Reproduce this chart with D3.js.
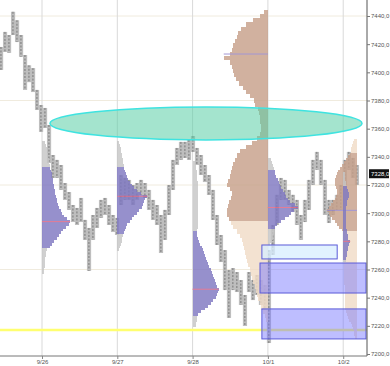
<!DOCTYPE html>
<html>
<head>
<meta charset="utf-8">
<script src="https://cdn.jsdelivr.net/npm/d3@7"></script>
<style>
  body { margin: 0; background: #fff; }
  svg text { font-family: "Liberation Sans", Arial, sans-serif; }
</style>
</head>
<body>
<svg id="chart" width="390" height="366"></svg>
<script>
// sessions (x unit = one session)
const days = ['9/26', '9/27', '9/28', '10/1', '10/2']
const priceTicks = [7200, 7220, 7240, 7260, 7280, 7300, 7320, 7340, 7360, 7380, 7400, 7420, 7440]
const gridPrices = [7260, 7320, 7380, 7440]
const lastPrice = 7328

// price bars, one every barStep sessions
const barStart = -0.545
const barStep = 0.0531
const barHi = [7418, 7428.7, 7426.5, 7443, 7437, 7426.5, 7412.3, 7405, 7403, 7387.5,
  7376.8, 7374.7, 7362.6, 7341.3, 7337.8, 7334.2, 7321.4, 7315, 7305.8, 7303.7,
  7310.8, 7295.2, 7289.5, 7298.7, 7303.7, 7309.4, 7310.8, 7305.8, 7298.7, 7296.6,
  7327, 7325, 7323.6, 7320, 7321.4, 7323.6, 7321.4, 7316.5, 7309.4, 7305.8,
  7298.7, 7302.3, 7320, 7337.8, 7346.3, 7350.6, 7350.6, 7352, 7354.8, 7346.3,
  7341.3, 7334.2, 7327.1, 7316.5, 7298.7, 7284.5, 7273.8, 7259.6, 7261, 7258.2,
  7252.5, 7241.9, 7258.2, 7252.5, 7256.1, 7252.5, 7249, 7273.8, 7291.6, 7313,
  7325, 7323.6, 7316.5, 7313, 7309.4, 7298.7, 7309.4, 7323.6, 7337.8, 7343.5,
  7337.8, 7323.6, 7309.4, 7309.4, 7313, 7320, 7337.8, 7343.5, 7339.2, 7334.2]
const barLo = [7401.7, 7414.5, 7413.8, 7426.5, 7421.5, 7411, 7387.5, 7393, 7386, 7373.3,
  7357.7, 7360.5, 7335.6, 7325, 7325, 7316.5, 7309.4, 7302.3, 7293.7, 7291.6,
  7293.7, 7281, 7259, 7281, 7289.5, 7296.6, 7298.7, 7291.6, 7286.6, 7284.5,
  7305.8, 7309.4, 7309.4, 7305.8, 7309.4, 7312.9, 7310.8, 7302.3, 7295.2, 7291.6,
  7271.7, 7281, 7298.7, 7316.5, 7334.2, 7337.8, 7339.2, 7337.8, 7343.5, 7334.2,
  7327.1, 7322.1, 7312.9, 7295.2, 7277.4, 7265.3, 7245.4, 7225.6, 7245.4, 7244,
  7234.8, 7219.9, 7244, 7238.3, 7241.9, 7234.8, 7231.2, 7207.8, 7270.3, 7291.6,
  7309.4, 7309.4, 7305.8, 7300.8, 7291.6, 7281, 7293.7, 7302.3, 7320, 7330.7,
  7320, 7298.7, 7293, 7298.7, 7302.3, 7302.3, 7320, 7330.7, 7325, 7320]

// volume profiles: volume per price level, from the lowest level up
const vol926 = [2, 2, 3, 3, 3, 3, 4, 4, 5, 8, 10, 12, 15, 17, 19, 21, 24, 27, 28, 25,
  22, 20, 19, 17, 16, 15, 15, 14, 13, 13, 12, 12, 11, 11, 10, 10, 9, 8, 8, 7,
  7, 6, 6, 5, 5, 4, 3]
const vol927 = [2, 3, 4, 5, 5, 6, 7, 8, 9, 10, 13, 15, 17, 20, 22, 25, 26, 27, 28, 30,
  24, 20, 17, 15, 13, 11, 10, 9, 8, 7, 7, 6, 6, 5, 5, 4, 4, 3, 2]
const vol928 = [3, 3, 4, 4, 5, 8, 12, 15, 18, 20, 23, 24, 25, 26, 24, 23, 22, 21, 20, 19,
  18, 16, 15, 14, 13, 12, 11, 10, 9, 7, 6, 5, 4, 4, 4, 5, 5, 5, 5, 5,
  5, 5, 5, 5, 5, 5, 5, 5, 5, 5, 5, 5, 4, 4, 4, 4, 3, 3, 2]
const volComposite = [2, 3, 5, 7, 8, 10, 11, 12, 13, 15, 16, 17, 18, 20, 21, 22, 23, 24, 25, 26,
  28, 31, 35, 37, 39, 41, 41, 40, 39, 37, 36, 38, 41, 40, 38, 37, 36, 35, 33, 31,
  28, 22, 16, 11, 8, 7, 7, 8, 8, 9, 10, 13, 14, 18, 22, 25, 29, 32,
  34, 35, 36, 38, 44, 38, 36, 35, 33, 31, 30, 27, 22, 15, 8, 4]
const vol101 = [2, 4, 5, 5, 6, 6, 7, 9, 13, 17, 21, 23, 26, 30, 27, 22, 20, 18, 17, 15,
  13, 12, 11, 10, 8, 7, 7, 6, 5, 4, 3]
const vol102Composite = [2, 3, 3, 4, 5, 6, 8, 9, 10, 11, 12, 12, 12, 12, 12, 12, 12, 12, 12, 13,
  13, 13, 13, 13, 13, 13, 13, 13, 13, 14, 14, 14, 14, 14, 14, 14, 14, 14, 15, 18,
  20, 22, 25, 27, 28, 30, 28, 26, 24, 22, 21, 20, 20, 21, 22, 22, 22, 21, 20, 19,
  17, 15, 13, 11, 9, 7, 6, 6, 5, 4, 3]
const vol102 = [3, 3, 4, 4, 5, 5, 6, 7, 5, 5, 4, 4, 3, 3, 3, 3, 3, 3, 3, 3,
  4, 4, 5, 6, 6, 5, 4, 3, 3, 2, 2, 2]

const profiles = [
  { t: 0, dir: 1, lo: 7258, step: 2, vol: vol926, vaLo: 7276, vaHi: 7332, poc: 7294, kind: 'day' },
  { t: 1, dir: 1, lo: 7274, step: 2, vol: vol927, vaLo: 7286, vaHi: 7332, poc: 7312, kind: 'day' },
  { t: 2, dir: 1, lo: 7220, step: 2, vol: vol928, vaLo: 7228, vaHi: 7286, poc: 7246, kind: 'day' },
  { t: 3, dir: -1, lo: 7224, step: 3, vol: volComposite, vaLo: 7294, vaHi: 7450, poc: 7413, kind: 'comp' },
  { t: 3, dir: 1, lo: 7278, step: 2, vol: vol101, vaLo: 7290, vaHi: 7330, poc: 7304, kind: 'day' },
  { t: 4.183, dir: -1, lo: 7212, step: 2, vol: vol102Composite, vaLo: 7288, vaHi: 7342, poc: 7302, kind: 'comp' },
  { t: 4, dir: 1, lo: 7266, step: 2, vol: vol102, vaLo: 7268, vaHi: 7318, poc: 7280, kind: 'day' }
]

// drawings
const ellipseT = [0.106, 4.25]
const ellipseP = [7352, 7375.4]
const zoneT0 = [2.92, 2.895, 2.92]
const zoneT1 = [3.92, 4.32, 4.32]
const zoneHi = [7277.4, 7264.6, 7232]
const zoneLo = [7267.5, 7243.3, 7210.7]
const supportLevel = 7217

const svg = d3.select('#chart')
const plotW = 367
const plotH = 356

const x = d3.scaleLinear().domain([-0.5578, 4.316]).range([0, plotW])
const y = d3.scaleLinear().domain([7200, 7440]).range([354, 16])
const dayW = x(1) - x(0)
const v = d3.scaleLinear().domain([0, 75]).range([0, dayW])

const colours = {
  day: { out: '#c6c6c6', va: '#7f78c2', poc: '#e0607e' },
  comp: { out: '#f1dcc7', va: '#c7a18b', poc: '#8f80cc' }
}

// grid
svg.append('g').selectAll('line')
  .data(gridPrices)
  .enter().append('line')
    .attr('x1', 0).attr('x2', plotW)
    .attr('y1', d => y(d)).attr('y2', d => y(d))
    .attr('stroke', '#f0ebde')

svg.append('g').selectAll('line')
  .data(d3.range(days.length))
  .enter().append('line')
    .attr('x1', d => x(d)).attr('x2', d => x(d))
    .attr('y1', 0).attr('y2', plotH)
    .attr('stroke', '#d9d9d9')

// support line
svg.append('line')
  .attr('x1', 0).attr('x2', plotW)
  .attr('y1', y(supportLevel)).attr('y2', y(supportLevel))
  .attr('stroke', '#ffff70')
  .attr('stroke-width', 2.5)

// price bars: touching grey bodies with a dark wick, so they read as one jagged band
const bars = barHi.map((hi, i) => ({ t: barStart + i * barStep, hi, lo: barLo[i] }))
const barW = x(barStep) - x(0)
svg.append('g').selectAll('rect')
  .data(bars)
  .enter().append('rect')
    .attr('x', d => x(d.t) - barW / 2)
    .attr('width', barW + 0.2)
    .attr('y', d => y(d.hi))
    .attr('height', d => y(d.lo) - y(d.hi))
    .attr('fill', '#bebebe')
svg.append('g').selectAll('line')
  .data(bars)
  .enter().append('line')
    .attr('x1', d => x(d.t)).attr('x2', d => x(d.t))
    .attr('y1', d => y(d.hi)).attr('y2', d => y(d.lo))
    .attr('stroke', '#666')
    .attr('stroke-width', 0.8)
    .attr('stroke-dasharray', '2,1.5')

// profiles
profiles.forEach(p => {
  const c = colours[p.kind]
  const levels = p.vol.map((vol, i) => ({ price: p.lo + i * p.step, vol }))
  const g = svg.append('g').attr('opacity', 0.82)
  g.selectAll('rect')
    .data(levels)
    .enter().append('rect')
      .attr('shape-rendering', 'crispEdges')
      .attr('x', d => p.dir > 0 ? x(p.t) : x(p.t) - v(d.vol))
      .attr('width', d => v(d.vol))
      .attr('y', d => y(d.price + p.step / 2))
      .attr('height', y(0) - y(p.step))
      .attr('fill', d => (d.price >= p.vaLo && d.price <= p.vaHi) ? c.va : c.out)
  const pocVol = d3.max(p.vol)
  g.append('line')
    .attr('x1', x(p.t))
    .attr('x2', x(p.t) + p.dir * v(pocVol))
    .attr('y1', y(p.poc)).attr('y2', y(p.poc))
    .attr('stroke', c.poc)
    .attr('stroke-width', 1)
})

// ellipse
svg.append('ellipse')
  .attr('cx', (x(ellipseT[0]) + x(ellipseT[1])) / 2)
  .attr('cy', (y(ellipseP[0]) + y(ellipseP[1])) / 2)
  .attr('rx', (x(ellipseT[1]) - x(ellipseT[0])) / 2)
  .attr('ry', (y(ellipseP[0]) - y(ellipseP[1])) / 2)
  .attr('fill', 'rgba(90, 205, 165, 0.55)')
  .attr('stroke', '#3fe3e0')
  .attr('stroke-width', 1.5)

// zones
const zones = zoneT0.map((t0, i) => ({ t0, t1: zoneT1[i], hi: zoneHi[i], lo: zoneLo[i], light: i === 0 }))
svg.append('g').selectAll('rect')
  .data(zones)
  .enter().append('rect')
    .attr('x', d => x(d.t0))
    .attr('width', d => Math.min(x(d.t1), plotW - 1) - x(d.t0))
    .attr('y', d => y(d.hi))
    .attr('height', d => y(d.lo) - y(d.hi))
    .attr('fill', d => d.light ? 'rgba(215, 238, 255, 0.75)' : 'rgba(110, 110, 255, 0.45)')
    .attr('stroke', '#5a5ad8')
    .attr('stroke-width', 1)

// axes
const fmt = d => d3.format('.1f')(d).replace('.', ',')
const yAxis = svg.append('g')
  .attr('transform', `translate(${plotW},0)`)
  .call(d3.axisRight(y).tickValues(priceTicks).tickFormat(fmt).tickSize(3).tickPadding(1))
yAxis.select('.domain').attr('d', `M0,0V${plotH}`).attr('stroke', '#555')
yAxis.selectAll('.tick line').attr('stroke', '#777')
yAxis.selectAll('text').attr('font-size', 6).attr('fill', '#555')

const xAxis = svg.append('g')
  .attr('transform', `translate(0,${plotH})`)
  .call(d3.axisBottom(x).tickValues(d3.range(days.length)).tickFormat(i => days[i]).tickSize(3).tickPadding(1))
xAxis.select('.domain').attr('d', `M0,0H${plotW}`).attr('stroke', '#777')
xAxis.selectAll('.tick line').attr('stroke', '#888')
xAxis.selectAll('text').attr('font-size', 6).attr('fill', '#555')

// last price marker
const lp = svg.append('g').attr('transform', `translate(${plotW},${y(lastPrice)})`)
lp.append('rect')
  .attr('x', 2).attr('y', -4.5)
  .attr('width', 20).attr('height', 9)
  .attr('fill', '#111')
lp.append('text')
  .attr('x', 4).attr('dy', '0.35em')
  .attr('font-size', 6)
  .attr('fill', '#fff')
  .text(fmt(lastPrice))
</script>
</body>
</html>
